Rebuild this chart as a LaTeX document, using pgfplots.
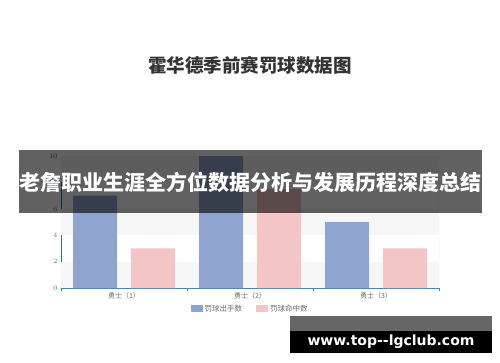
\documentclass[border=0pt]{standalone}
\usepackage{pgfplots}
\pgfplotsset{compat=1.18}
\usepackage{fontspec}
\setmainfont{Noto Sans CJK SC}
\newfontfamily\urlfont{DejaVu Sans}

\definecolor{shotblue}{HTML}{8FA5CF}
\definecolor{madepink}{HTML}{F4C5C6}
\definecolor{axisblue}{HTML}{2F8DD0}
\definecolor{labgray}{HTML}{6E6E6E}
\definecolor{bandgray}{HTML}{F6F6F6}
\definecolor{titlegray}{HTML}{333333}

\begin{document}
\begin{tikzpicture}[x=1pt,y=1pt]
% canvas
\fill[white] (0,0) rectangle (500,362);

% title
\node[font=\fontsize{18.5}{20}\selectfont\bfseries, text=titlegray] at (250,297) {霍华德季前赛罚球数据图};

\begin{axis}[
  at={(61pt,74pt)}, anchor=south west,
  scale only axis, width=378pt, height=132pt,
  xmin=-0.5, xmax=2.5, ymin=0, ymax=10,
  axis x line*=bottom, axis y line*=left,
  x axis line style={draw=axisblue, line width=1pt},
  y axis line style={draw=axisblue!80!black, line width=0.8pt},
  ytick={0,2,4,6,8,10},
  yticklabel style={font=\fontsize{7}{8}\selectfont, text=labgray},
  xtick={0,1,2},
  xticklabels={勇士（1）,勇士（2）,勇士（3）},
  xticklabel style={font=\fontsize{7}{8}\selectfont, text=labgray, yshift=-1pt},
  major tick length=0pt,
  extra x ticks={-0.5,0.5,1.5,2.5},
  extra x tick labels={},
  extra x tick style={major tick length=3pt, tick align=outside,
    tick style={draw=axisblue, line width=0.6pt}},
  ybar,
  bar width=44pt,
  axis on top=false,
  legend columns=2,
  legend style={at={(0.5,-0.159)}, anchor=center, draw=none, fill=none,
    font=\fontsize{7.5}{9}\selectfont, text=labgray,
    /tikz/every even column/.append style={column sep=12pt}},
  legend image code/.code={\fill[#1] (0pt,-3.5pt) rectangle (12pt,3.5pt);},
]
% alternating horizontal bands behind the bars
\fill[bandgray] (axis cs:-0.5,0) rectangle (axis cs:2.5,2);
\fill[bandgray] (axis cs:-0.5,4) rectangle (axis cs:2.5,6);
\fill[bandgray] (axis cs:-0.5,8) rectangle (axis cs:2.5,10);
\draw[black!8] (axis cs:2.5,0) -- (axis cs:2.5,10);

\addplot[fill=shotblue, draw=none, bar shift=-29pt]
  coordinates {(0,7) (1,10) (2,5)};
\addlegendentry{罚球出手数}
\addplot[fill=madepink, draw=none, bar shift=29pt]
  coordinates {(0,3) (1,7.5) (2,3)};
\addlegendentry{罚球命中数}
\end{axis}

% headline banner across the chart
\fill[black, opacity=0.62] (19,149) rectangle (482,212);
\node[font=\fontsize{21}{22}\selectfont\bfseries, text=white] at (250.5,180) {老詹职业生涯全方位数据分析与发展历程深度总结};

% site label
\fill[black!60] (290,31) rectangle (492,46);
\fill[black] (290,9) rectangle (492,31);
\node[font=\urlfont\fontsize{14}{15}\selectfont\bfseries, text=white, anchor=base] at (391,17) {www.top--lgclub.com};
\end{tikzpicture}
\end{document}
